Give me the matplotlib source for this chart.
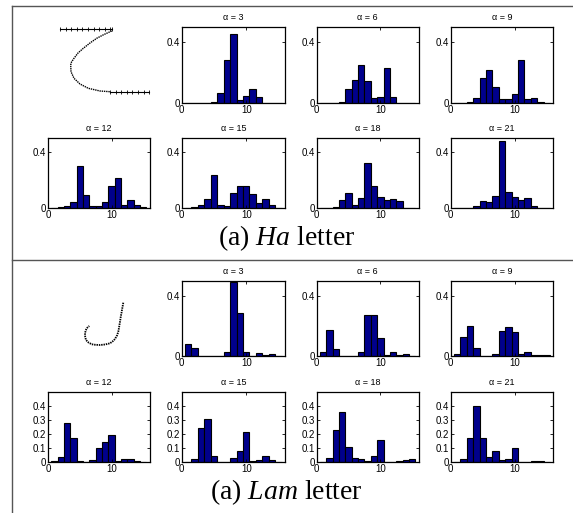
import matplotlib
matplotlib.use("Agg")
import matplotlib.pyplot as plt
import numpy as np

W, H = 573, 513
DPI = 100

bins = list(range(1, 16))

ha_alpha = [3, 6, 9, 12, 15, 18, 21]
ha_3 = [0, 0, 0, 0, 0.008, 0.065, 0.28, 0.45, 0.022, 0.045, 0.095, 0.04, 0.003, 0, 0]
ha_6 = [0, 0, 0, 0.01, 0.095, 0.15, 0.25, 0.145, 0.033, 0.044, 0.23, 0.04, 0, 0, 0]
ha_9 = [0, 0, 0.008, 0.035, 0.167, 0.22, 0.107, 0.027, 0.029, 0.058, 0.285, 0.027, 0.036, 0.011, 0.002]
ha_12 = [0, 0.01, 0.014, 0.045, 0.30, 0.096, 0.016, 0.016, 0.045, 0.158, 0.22, 0.026, 0.061, 0.021, 0.007]
ha_15 = [0, 0.012, 0.026, 0.068, 0.24, 0.021, 0.016, 0.11, 0.158, 0.162, 0.099, 0.04, 0.064, 0.021, 0]
ha_18 = [0.004, 0.004, 0.007, 0.056, 0.108, 0.026, 0.075, 0.327, 0.162, 0.078, 0.056, 0.064, 0.052, 0.002, 0]
ha_21 = [0.002, 0, 0, 0.016, 0.05, 0.045, 0.085, 0.48, 0.118, 0.08, 0.056, 0.075, 0.014, 0, 0]
ha_data = [ha_3, ha_6, ha_9, ha_12, ha_15, ha_18, ha_21]

lam_alpha = [3, 6, 9, 12, 15, 18, 21]
lam_3 = [0.08, 0.055, 0.002, 0.002, 0.002, 0.002, 0.03, 0.495, 0.29, 0.028, 0.003, 0.02, 0.004, 0.013, 0.003]
lam_6 = [0.028, 0.175, 0.045, 0.002, 0.002, 0.002, 0.03, 0.275, 0.272, 0.12, 0.008, 0.025, 0.006, 0.012, 0.002]
lam_9 = [0.015, 0.13, 0.2, 0.053, 0.003, 0.002, 0.012, 0.17, 0.195, 0.158, 0.015, 0.03, 0.008, 0.004, 0.007]
lam_12 = [0.007, 0.036, 0.28, 0.17, 0.007, 0.001, 0.012, 0.1, 0.14, 0.188, 0.005, 0.022, 0.02, 0.003, 0]
lam_15 = [0, 0.021, 0.24, 0.303, 0.044, 0, 0, 0.025, 0.08, 0.215, 0.004, 0.01, 0.04, 0.01, 0]
lam_18 = [0, 0.025, 0.228, 0.358, 0.108, 0.025, 0.02, 0.005, 0.038, 0.153, 0, 0, 0.003, 0.01, 0.022]
lam_21 = [0, 0.02, 0.167, 0.4, 0.172, 0.035, 0.075, 0.015, 0.02, 0.095, 0, 0, 0.005, 0.006, 0]
lam_data = [lam_3, lam_6, lam_9, lam_12, lam_15, lam_18, lam_21]

# handwritten strokes (pixel-like coordinates, y downwards)
ha_top_x = [60, 65.6, 71.2, 76.8, 82.4, 88, 93.6, 99.2, 104.8, 110.4, 112]
ha_top_y = [29.3] * 11
ha_curve_x = [111.7, 104, 96.7, 90, 83.3, 78, 74, 71.5, 70.7, 71, 74, 80, 88.3, 100, 110]
ha_curve_y = [31, 34.5, 38.3, 43, 48.3, 53, 58.3, 62, 65, 71.7, 78.3, 84, 88.3, 91, 91.7]
ha_bot_x = [110, 115.6, 121.2, 126.8, 132.4, 138, 143.6, 149]
ha_bot_y = [91.7] * 8

lam_x = [123.3, 122.5, 121.7, 120.8, 120, 119.2, 118.3, 117, 115, 112.5, 110, 105, 100, 95.5, 91.7, 88.5, 86, 85.2, 85, 85.7, 86.7, 88, 89.3]
lam_y = [302.7, 307, 311.7, 316.5, 321.7, 326.5, 331.7, 335.5, 339, 341.5, 343.3, 344.5, 345, 344.8, 344.3, 342.5, 340, 337, 333.3, 330.5, 328.3, 327, 326]

bar_color = (0.0, 0.0, 0.55)

plt.rcParams['font.family'] = ['Liberation Sans', 'DejaVu Sans']
plt.rcParams['mathtext.fontset'] = 'custom'
plt.rcParams['mathtext.rm'] = 'Liberation Serif'
plt.rcParams['mathtext.it'] = 'Liberation Serif:italic'

fig = plt.figure(figsize=(W / DPI, H / DPI), dpi=DPI)


def rect(x0, y0, x1, y1):
    return [x0 / W, 1 - y1 / H, (x1 - x0) / W, (y1 - y0) / H]


# overlay for frame and strokes
ov = fig.add_axes([0, 0, 1, 1])
ov.set_xlim(0, W)
ov.set_ylim(H, 0)
ov.axis('off')
frame_c = '#555555'
ov.plot([11.7, 11.7], [6, 513], color=frame_c, lw=1.0)
ov.plot([11.7, 573], [6, 6], color=frame_c, lw=1.0)
ov.plot([11.7, 573], [260, 260], color=frame_c, lw=1.0)

ov.plot(ha_top_x, ha_top_y, color='k', lw=0.8, marker='|', ms=2.5, mew=0.6)
ov.plot(ha_curve_x, ha_curve_y, color='k', lw=1.0, ls=(0, (1, 0.6)))
ov.plot(ha_bot_x, ha_bot_y, color='k', lw=0.8, marker='|', ms=2.5, mew=0.6)
ov.plot(lam_x, lam_y, color='k', lw=1.3, ls=(0, (0.8, 0.5)))

cols = [(48.3, 149.5), (181.7, 285), (316.7, 418.5), (450.7, 553.3)]
ha_rows = [(26.7, 103.3), (138.3, 208.3)]
lam_rows = [(281, 356), (391.7, 461.7)]


def draw_panel(positions_rows, alphas, datas, yticks_row2):
    slots = [(0, 1), (0, 2), (0, 3), (1, 0), (1, 1), (1, 2), (1, 3)]
    for (r, c), a, d in zip(slots, alphas, datas):
        x0, x1 = cols[c]
        y0, y1 = positions_rows[r]
        ax = fig.add_axes(rect(x0, y0, x1, y1))
        ax.bar(bins, d, width=1.0, color=bar_color, edgecolor='k', linewidth=0.8)
        ax.set_xlim(0, 16)
        ax.set_ylim(0, 0.5)
        ax.set_xticks([0, 10])
        ax.set_xticklabels(['0', '10'])
        if r == 1 and yticks_row2 is not None:
            ax.set_yticks(yticks_row2)
            ax.set_yticklabels(['0' if v == 0 else f'{v:.1f}' for v in yticks_row2])
        else:
            ax.set_yticks([0, 0.4])
            ax.set_yticklabels(['0', '0.4'])
        ax.tick_params(direction='in', length=2, width=0.6, labelsize=7, pad=1.5,
                       top=True, right=True)
        for s in ax.spines.values():
            s.set_linewidth(0.9)
        ax.set_title(f'\u03b1 = {a}', fontsize=6.5, pad=5)


draw_panel(ha_rows, ha_alpha, ha_data, None)
draw_panel(lam_rows, lam_alpha, lam_data, [0, 0.1, 0.2, 0.3, 0.4])

serif = ['Liberation Serif', 'DejaVu Serif']
fig.text(0.5, 1 - 238 / H, '(a) $\\mathit{Ha}$ letter', ha='center', va='center',
         fontsize=20, family=serif)
fig.text(0.5, 1 - 492 / H, '(a) $\\mathit{Lam}$ letter', ha='center', va='center',
         fontsize=20, family=serif)

fig.savefig('out.png', dpi=DPI)
